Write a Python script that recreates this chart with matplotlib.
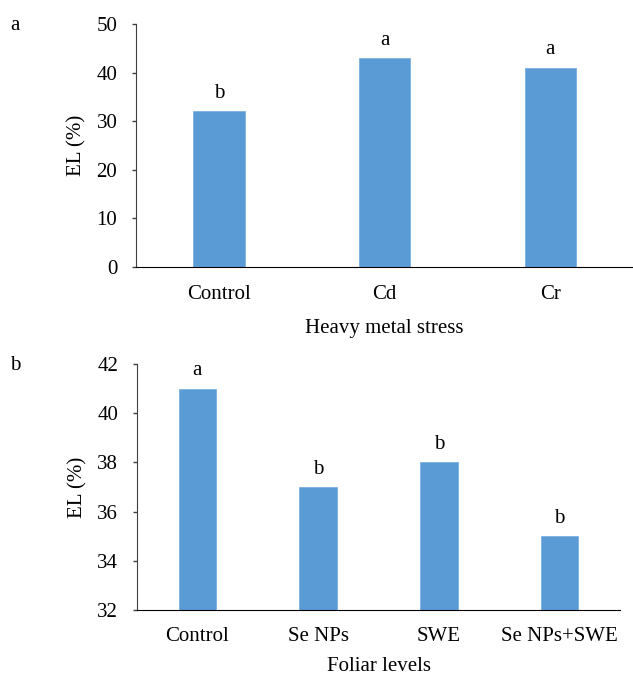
import matplotlib.pyplot as plt

plt.rcParams['font.family'] = ['Liberation Serif', 'DejaVu Serif']

# panel a: heavy metal stress
metal_cats = ["Control", "Cd", "Cr"]
metal_el = [32, 43, 41]
metal_letters = ["b", "a", "a"]

# panel b: foliar levels
foliar_cats = ["Control", "Se NPs", "SWE", "Se NPs+SWE"]
foliar_el = [41, 37, 38, 35]
foliar_letters = ["a", "b", "b", "b"]

bar_color = "#5B9BD5"
fs = 15

fig = plt.figure(figsize=(6.33, 6.78), dpi=100)
ax1 = fig.add_axes([0.215, 0.6062, 0.785, 0.3584])
ax2 = fig.add_axes([0.2164, 0.1003, 0.7631, 0.3628])


def draw_panel(ax, cats, vals, letters, ylim, yticks, xlabel, xpad, lpad):
    x = range(len(cats))
    bars = ax.bar(x, vals, width=0.31, color=bar_color, edgecolor="#7DB0E0",
                  linewidth=0.6, zorder=2)
    for b, lab in zip(bars, letters):
        ax.annotate(lab, (b.get_x() + b.get_width() / 2, b.get_height()),
                    xytext=(0, 6), textcoords="offset points",
                    ha="center", va="bottom", fontsize=fs)
    ax.set_xlim(-0.5, len(cats) - 0.5)
    ax.set_ylim(*ylim)
    ax.set_yticks(yticks)
    ax.set_xticks(list(x))
    ax.set_xticklabels(cats)
    ax.tick_params(axis="x", length=0, labelsize=fs, pad=xpad)
    ax.tick_params(axis="y", length=3, width=1, labelsize=fs, color="#404040",
                   direction="out", pad=10.5)
    for s in ("top", "right"):
        ax.spines[s].set_visible(False)
    ax.spines["left"].set_color("#404040")
    ax.spines["bottom"].set_color("black")
    ax.set_ylabel("EL (%)", fontsize=fs, labelpad=7)
    ax.set_xlabel(xlabel, fontsize=fs, labelpad=lpad)


draw_panel(ax1, metal_cats, metal_el, metal_letters, (0, 50),
           [0, 10, 20, 30, 40, 50], "Heavy metal stress", 13, 11)
draw_panel(ax2, foliar_cats, foliar_el, foliar_letters, (32, 42),
           [32, 34, 36, 38, 40, 42], "Foliar levels", 12, 8)

fig.text(0.016, 0.963, "a", fontsize=fs, va="center")
fig.text(0.016, 0.461, "b", fontsize=fs, va="center")

fig.savefig("out.png", dpi=100)
